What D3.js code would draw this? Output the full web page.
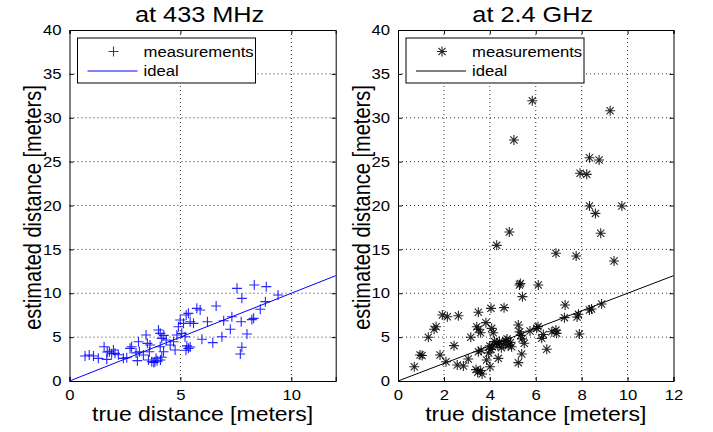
<!DOCTYPE html>
<html>
<head>
<meta charset="utf-8">
<script src="https://cdn.jsdelivr.net/npm/d3@7"></script>
<style>
  body { margin: 0; background: #fff; }
  text { font-family: "Liberation Sans", Arial, Helvetica, sans-serif; fill: #000; }
</style>
</head>
<body>
<svg id="chart" width="713" height="432"></svg>
<script>
// ---- data ----
var titles = ["at 433 MHz", "at 2.4 GHz"];
var legendLabels = ["measurements", "ideal"];
var xLabel = "true distance [meters]";
var yLabel = "estimated distance [meters]";

var xTicks433 = [0, 5, 10];
var xTicks24 = [0, 2, 4, 6, 8, 10, 12];
var yTicks = [0, 5, 10, 15, 20, 25, 30, 35, 40];
var ideal = [0, 12];

var x433 = [0.70, 0.89, 1.08, 1.30, 1.56, 1.68, 1.80, 1.98, 2.05, 1.90, 2.43, 2.58, 2.73, 2.80, 3.11, 3.06, 3.15, 3.33,
  3.45, 3.51, 3.63, 3.60, 3.56, 3.71, 3.85, 3.95, 4.10, 3.90, 4.01, 4.09, 4.16, 4.25, 4.36, 4.09, 4.24, 4.16,
  4.54, 4.69, 4.84, 4.76, 4.91, 4.99, 5.14, 5.26, 5.36, 5.44, 5.59, 5.06, 5.21, 5.29, 5.36, 5.25, 5.44, 5.74,
  5.89, 6.61, 7.55, 7.77, 8.33, 8.87, 9.40, 8.83, 8.60, 8.30, 8.22, 7.74, 7.32, 6.95, 7.25, 8.00, 7.77, 7.70,
  6.87, 6.46, 5.97, 6.22, 3.00, 2.20, 1.70, 3.80];
var y433 = [2.85, 2.96, 2.85, 2.58, 3.91, 2.47, 3.34, 3.53, 3.15, 3.10, 2.58, 2.65, 3.72, 3.90, 4.48, 2.32, 3.34, 2.96,
  5.24, 4.29, 4.10, 3.34, 2.39, 2.20, 2.20, 2.30, 2.40, 2.60, 5.81, 5.43, 4.86, 5.20, 4.67, 3.91, 3.34, 2.70,
  4.10, 4.48, 5.24, 3.53, 6.19, 6.95, 6.57, 7.52, 7.71, 6.76, 6.57, 5.43, 5.05, 4.00, 3.72, 3.50, 3.88, 8.28,
  8.09, 8.55, 10.56, 9.42, 10.94, 10.75, 9.80, 9.04, 8.17, 7.14, 7.00, 6.76, 7.33, 6.87, 5.89, 5.36, 3.84, 3.08,
  5.05, 4.37, 4.75, 6.76, 3.20, 3.00, 3.30, 2.10];

var x24 = [5.85, 9.24, 5.05, 8.34, 8.76, 7.93, 8.22, 8.34, 9.75, 8.60, 8.83, 4.85, 4.30, 6.88, 7.76, 9.41,
  5.29, 5.33, 6.11, 5.42, 1.93, 2.15, 2.63, 3.50, 4.05, 4.62, 7.28, 7.25, 7.86, 7.80, 8.34, 8.43, 8.87, 7.90,
  1.66, 1.57, 1.32, 0.96, 1.05, 0.71, 1.83, 2.09, 2.44, 2.58, 2.85, 3.06, 3.17, 3.43, 3.50, 3.60, 3.83, 4.08,
  4.15, 3.50, 3.62, 3.40, 3.47, 3.60, 3.66, 3.86, 4.01, 4.00, 4.05, 4.10, 4.20, 4.28, 4.35, 4.42, 4.37, 4.60,
  4.75, 4.80, 4.90, 4.95, 5.24, 5.30, 5.35, 5.40, 5.50, 5.24, 5.39, 5.75, 6.04, 6.10, 6.26, 6.33, 6.48, 6.70,
  6.91, 6.88, 4.50, 4.70, 3.95];
var y24 = [31.94, 30.80, 27.46, 25.45, 25.19, 23.67, 23.55, 19.94, 19.94, 19.10, 16.83, 16.98, 15.46, 14.55, 14.25, 13.68,
  10.94, 11.10, 10.94, 9.61, 7.52, 7.33, 7.44, 7.83, 8.28, 8.36, 8.66, 7.22, 7.60, 7.30, 8.09, 8.20, 8.77, 5.36,
  6.19, 5.90, 4.98, 2.96, 2.90, 1.63, 2.96, 2.20, 4.03, 1.82, 1.71, 2.50, 4.98, 6.19, 5.90, 5.50, 6.65, 6.00,
  5.50, 3.34, 3.50, 1.30, 1.00, 1.20, 0.80, 2.39, 1.63, 4.00, 3.60, 3.90, 4.50, 4.30, 4.10, 4.50, 2.58, 4.20,
  4.80, 4.00, 4.40, 3.90, 6.38, 5.60, 5.20, 4.80, 4.30, 2.09, 3.08, 5.70, 6.00, 6.20, 4.86, 5.30, 3.61, 5.62,
  5.43, 5.80, 3.80, 4.60, 3.20];

// ---- layout ----
var svg = d3.select("#chart");
var sx = 1.15;   // the original image is stretched horizontally
var panels = [
  {left: 69.5, right: 335.7, xs: x433, ys: y433, xt: xTicks433, color: "#0000ff", marker: "plus", ylabX: 33},
  {left: 398, right: 673.5, xs: x24, ys: y24, xt: xTicks24, color: "#000000", marker: "star", ylabX: 362}
];
var plotTop = 30, plotBottom = 381;

function htext(g, x, y, str, size, anchor) {
  return g.append("text")
    .attr("transform", `translate(${x},${y}) scale(${sx},1)`)
    .attr("text-anchor", anchor || "middle")
    .style("font-size", size + "px")
    .text(str);
}

function drawMarker(g, kind, cx, cy, color) {
  var r = 5;
  var p = `M${cx - r},${cy}H${cx + r}M${cx},${cy - r}V${cy + r}`;
  if (kind === "star") {
    var d = r * 0.72;
    p += `M${cx - d},${cy - d}L${cx + d},${cy + d}M${cx - d},${cy + d}L${cx + d},${cy - d}`;
  }
  g.append("path").attr("d", p).attr("stroke", color).attr("stroke-width", 1.1)
    .attr("fill", "none").attr("opacity", 0.85);
}

panels.forEach(function(p, i) {
  var x = d3.scaleLinear().domain([0, 12]).range([p.left, p.right]);
  var y = d3.scaleLinear().domain([0, 40]).range([plotBottom, plotTop]);
  var g = svg.append("g");

  // grid
  g.selectAll(".gx").data(p.xt.filter(t => t > 0 && t < 12)).enter().append("line")
    .attr("x1", d => x(d)).attr("x2", d => x(d)).attr("y1", plotTop).attr("y2", plotBottom)
    .attr("stroke", "#333").attr("stroke-dasharray", "1,3");
  g.selectAll(".gy").data(yTicks.filter(t => t > 0 && t < 40)).enter().append("line")
    .attr("y1", d => y(d)).attr("y2", d => y(d)).attr("x1", p.left).attr("x2", p.right)
    .attr("stroke", "#333").attr("stroke-dasharray", "1,3");

  // axes (ticks pointing inward on all four sides)
  var tl = 4;
  g.append("g").attr("transform", `translate(0,${plotBottom})`)
    .call(d3.axisBottom(x).tickValues(p.xt).tickSize(-tl).tickPadding(9).tickFormat(d3.format("d")));
  g.append("g").attr("transform", `translate(0,${plotTop})`)
    .call(d3.axisTop(x).tickValues(p.xt).tickSize(-tl).tickFormat(""));
  g.append("g").attr("transform", `translate(${p.left},0)`)
    .call(d3.axisLeft(y).tickValues(yTicks).tickSize(-tl).tickPadding(8).tickFormat(d3.format("d")));
  g.append("g").attr("transform", `translate(${p.right},0)`)
    .call(d3.axisRight(y).tickValues(yTicks).tickSize(-tl).tickFormat(""));
  g.selectAll(".domain").attr("stroke", "#000").attr("stroke-width", 1);
  g.selectAll(".tick line").attr("stroke", "#000");
  g.selectAll(".tick text").style("font-size", "14.5px")
    .style("font-family", '"Liberation Sans", Arial, sans-serif')
    .attr("transform", function() {
      // horizontal stretch around the label's own anchor
      var t = d3.select(this);
      var tx = +t.attr("x") || 0, ty = +t.attr("y") || 0;
      return `translate(${tx},${ty}) scale(${sx},1) translate(${-tx},${-ty})`;
    });

  // ideal line
  g.append("path").datum(ideal)
    .attr("d", d3.line().x(d => x(d)).y(d => y(d)))
    .attr("stroke", p.color).attr("stroke-width", 1).attr("fill", "none");

  // measurements
  var pts = g.append("g");
  p.xs.forEach(function(v, k) { drawMarker(pts, p.marker, x(v), y(p.ys[k]), p.color); });

  // titles and labels
  htext(svg, (p.left + p.right) / 2 - 3, 22, titles[i], 22);
  htext(svg, (p.left + p.right) / 2, 421, xLabel, 20);
  svg.append("text")
    .attr("transform", `translate(${p.ylabX},${(plotTop + plotBottom) / 2 + 2}) rotate(-90) scale(1,${sx})`)
    .attr("text-anchor", "middle").attr("dy", "0.35em")
    .style("font-size", "20px").text(yLabel);

  // legend
  var lx = p.left + 8, ly = 38;
  var lg = svg.append("g");
  lg.append("rect").attr("x", lx).attr("y", ly).attr("width", 178).attr("height", 45)
    .attr("fill", "#fff").attr("stroke", "#000").attr("stroke-width", 1);
  drawMarker(lg, p.marker, lx + 36, ly + 13.5, p.color);
  lg.append("line").attr("x1", lx + 10).attr("x2", lx + 60).attr("y1", ly + 33).attr("y2", ly + 33)
    .attr("stroke", p.color).attr("stroke-width", 1);
  htext(lg, lx + 66, ly + 19, legendLabels[0], 14.5, "start");
  htext(lg, lx + 66, ly + 38, legendLabels[1], 14.5, "start");
});
</script>
</body>
</html>
